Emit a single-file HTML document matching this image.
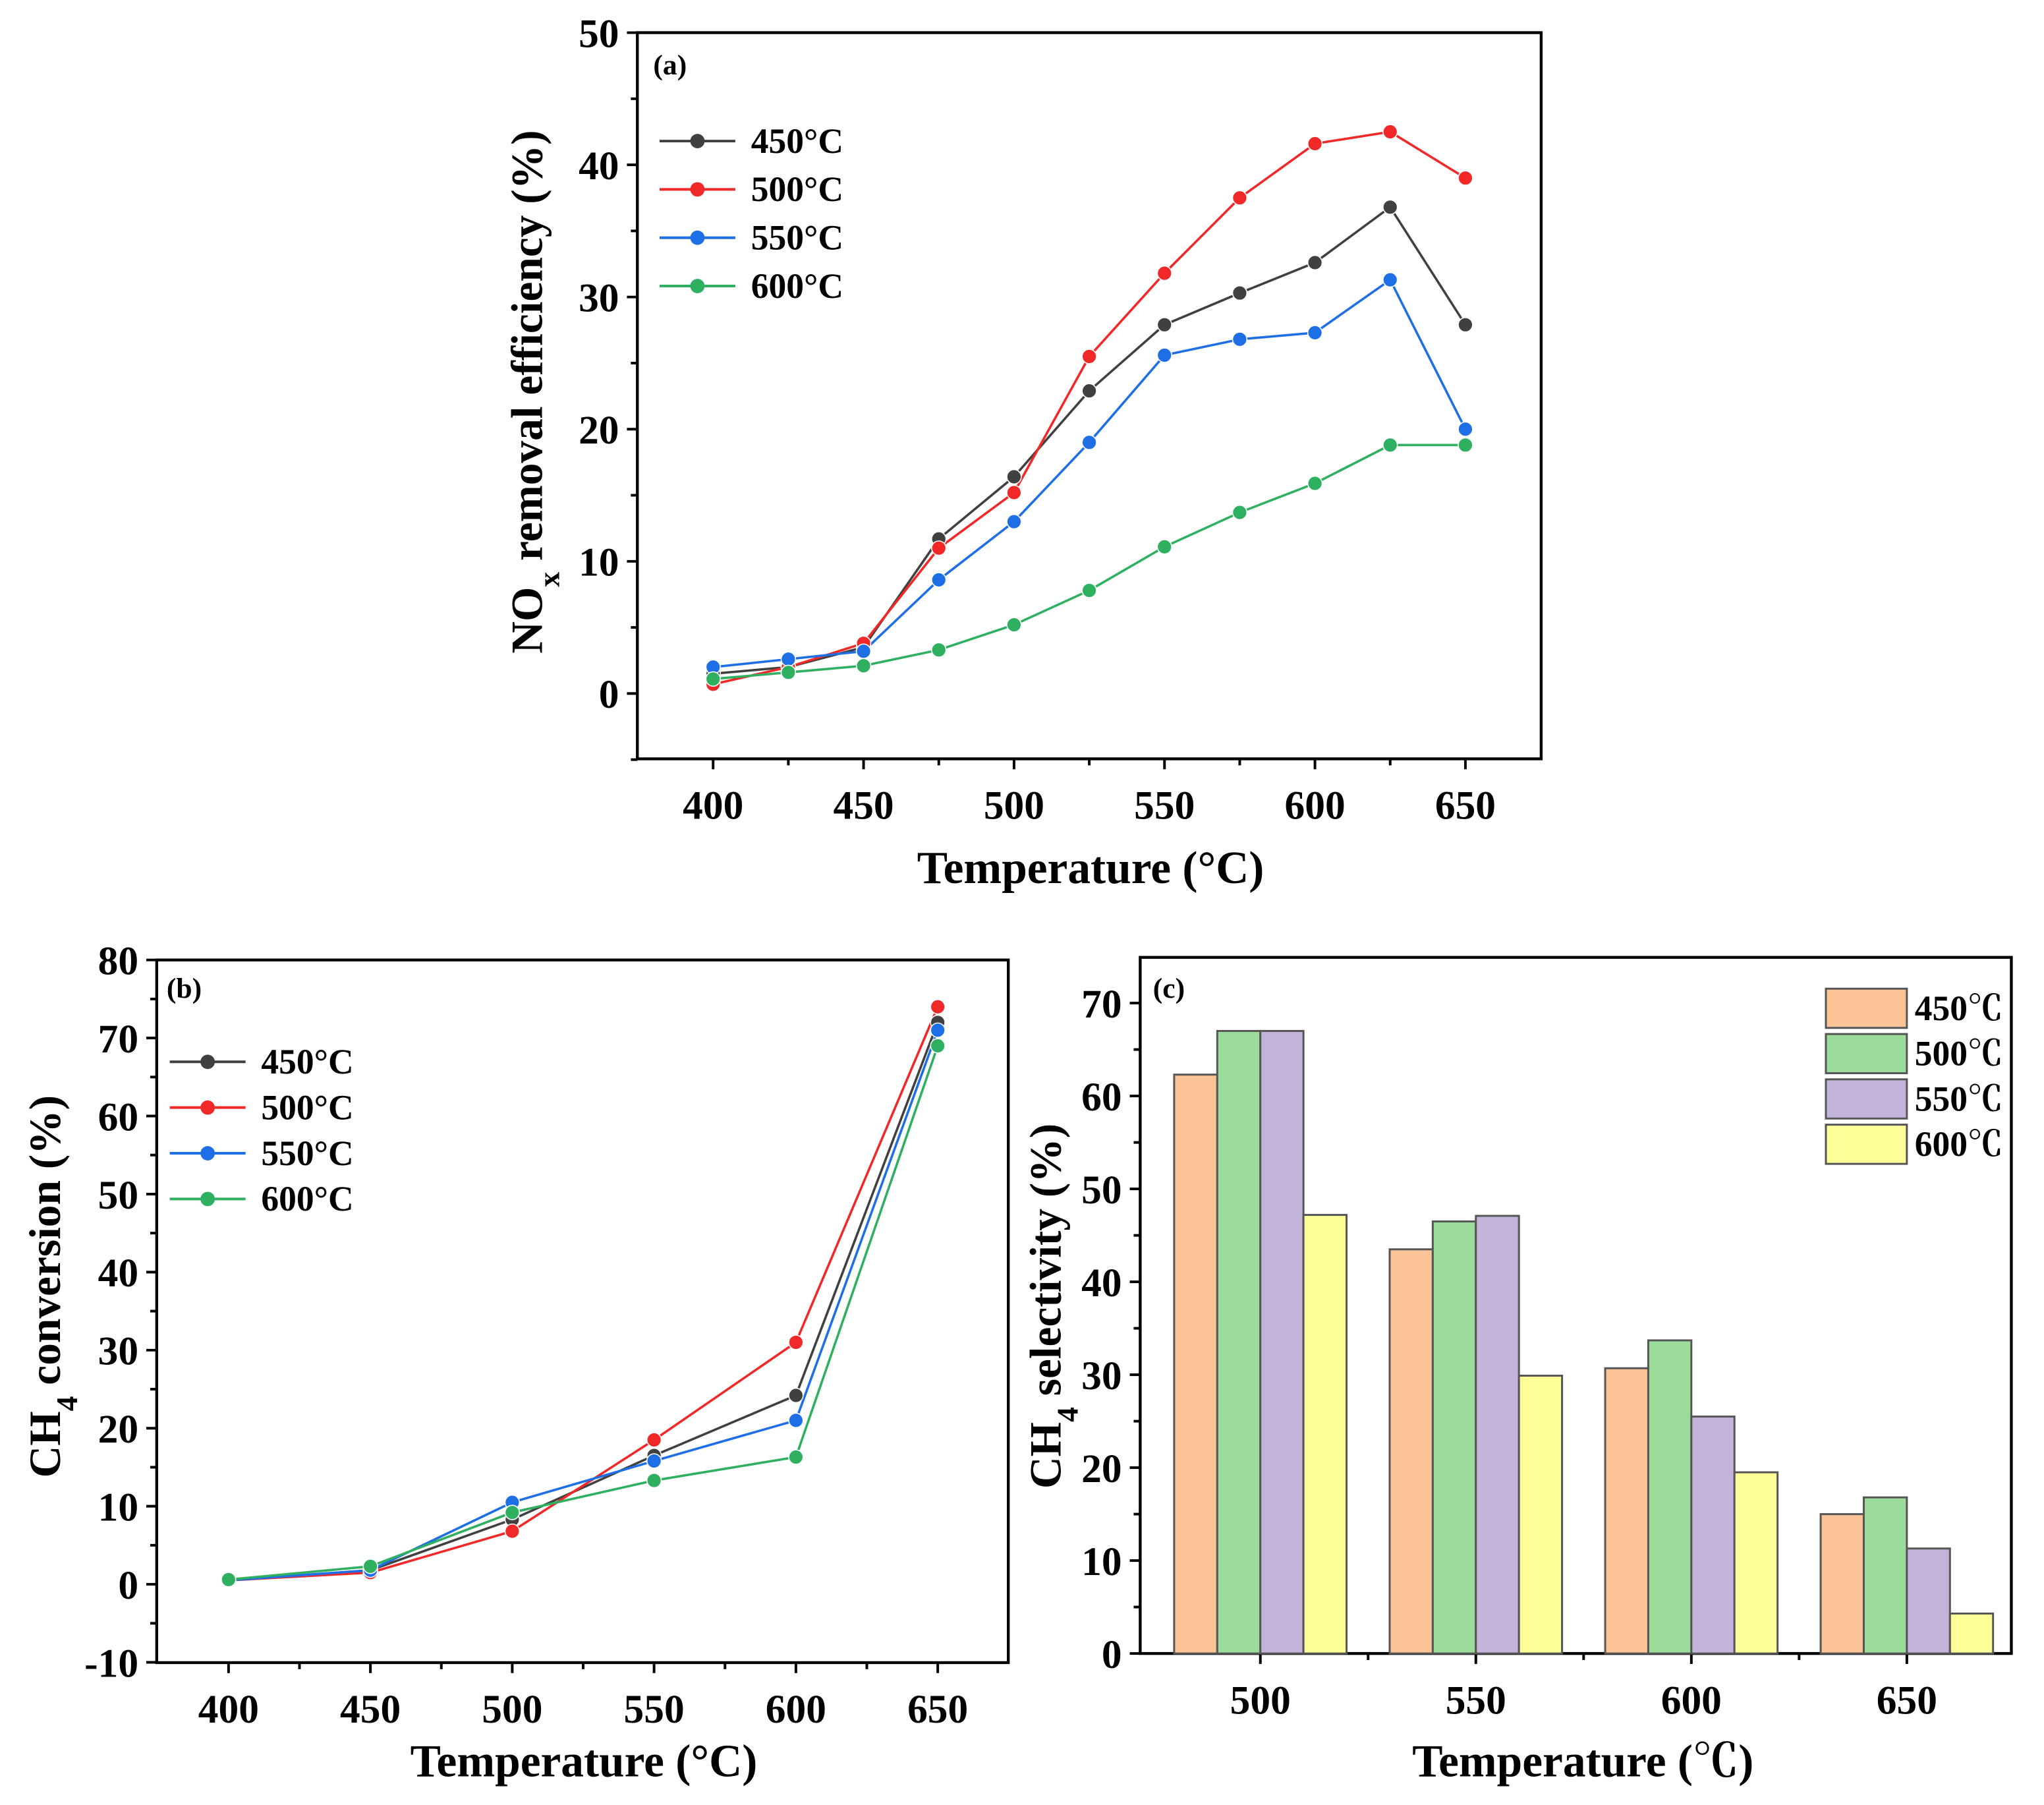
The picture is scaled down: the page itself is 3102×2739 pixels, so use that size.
<!DOCTYPE html>
<html><head><meta charset="utf-8">
<style>
html,body{margin:0;padding:0;background:#fff;}
svg{display:block;font-family:"Liberation Serif","Noto Serif CJK SC",serif;font-weight:bold;}
</style></head>
<body>
<svg id="fig" width="3102" height="2739" viewBox="0 0 1565 1382" preserveAspectRatio="none" xmlns="http://www.w3.org/2000/svg">
<rect x="0" y="0" width="1565" height="1382" fill="#fff"/>
<g id="pa"></g>
<g id="pb"></g>
<g id="pc"></g>
</svg>
<script>
// ---- Panel (a) data ----
const aTemps = [400,425,450,475,500,525,550,575,600,625,650];
const aS450 = [1.5,2.0,3.5,11.7,16.4,22.9,27.9,30.3,32.6,36.8,27.9];
const aS500 = [0.7,2.0,3.8,11.0,15.2,25.5,31.8,37.5,41.6,42.5,39.0];
const aS550 = [2.0,2.6,3.2,8.6,13.0,19.0,25.6,26.8,27.3,31.3,20.0];
const aS600 = [1.1,1.6,2.1,3.3,5.2,7.8,11.1,13.7,15.9,18.8,18.8];
const aYTicks = [0,10,20,30,40,50];
const aXTicks = [400,450,500,550,600,650];
// ---- Panel (b) data ----
const bTemps = [400,450,500,550,600,650];
const bS450 = [0.5,1.8,8.3,16.5,24.2,72.0];
const bS500 = [0.5,1.5,6.8,18.5,31.0,74.0];
const bS550 = [0.5,1.8,10.5,15.8,21.0,71.0];
const bS600 = [0.6,2.3,9.2,13.3,16.3,69.0];
const bYTicks = [-10,0,10,20,30,40,50,60,70,80];
const bXTicks = [400,450,500,550,600,650];
// ---- Panel (c) data ----
const cCats = [500,550,600,650];
const cS450 = [62.3,43.5,30.7,15.0];
const cS500 = [67.0,46.5,33.7,16.8];
const cS550 = [67.0,47.1,25.5,11.3];
const cS600 = [47.2,29.9,19.5,4.3];
const cYTicks = [0,10,20,30,40,50,60,70];
const seriesNames = ['450°C','500°C','550°C','600°C'];
const seriesNamesC = ['450℃','500℃','550℃','600℃'];
const lineColors = ['#404040','#f02828','#1e6ee6','#2eb060'];
const barColors = ['#fcc396','#9bdc9b','#c4b4dc','#ffff99'];

const NS='http://www.w3.org/2000/svg';
function mk(parent,tag,attrs,text){
  const e=document.createElementNS(NS,tag);
  for(const k in attrs)e.setAttribute(k,attrs[k]);
  if(text!==undefined)e.textContent=text;
  parent.appendChild(e);return e;
}
function lin(d0,d1,r0,r1){return v=>r0+(v-d0)*(r1-r0)/(d1-d0);}

function axesFrame(g,L,R,T,B,xs,ys,xt,yt,xMinor,yMinor,nm){
  const f=mk(g,'rect',{x:L,y:T,width:R-L,height:B-T,fill:'none',stroke:'#000','stroke-width':2.2});
  
  
  yt.forEach(v=>{
    const y=ys(v);
    mk(g,'line',{x1:L-8,x2:L,y1:y,y2:y,stroke:'#000','stroke-width':2});
    const t=mk(g,'text',{x:L-14,y:y+11,'text-anchor':'end','font-size':31},String(v));
    
    
  });
  yMinor.forEach(v=>{const y=ys(v);mk(g,'line',{x1:L-5,x2:L,y1:y,y2:y,stroke:'#000','stroke-width':2});});
  xt.forEach(v=>{
    const x=xs(v);
    mk(g,'line',{x1:x,x2:x,y1:B,y2:B+8,stroke:'#000','stroke-width':2});
    const t=mk(g,'text',{x:x,y:B+46,'text-anchor':'middle','font-size':31},String(v));
    
    
  });
  xMinor.forEach(v=>{const x=xs(v);mk(g,'line',{x1:x,x2:x,y1:B,y2:B+5,stroke:'#000','stroke-width':2});});
}
function drawLines(g,xs,ys,temps,series,nm){
  series.forEach((s,i)=>{
    const pts=temps.map((t,j)=>xs(t)+','+ys(s[j])).join(' ');
    const pl=mk(g,'polyline',{points:pts,fill:'none',stroke:lineColors[i],'stroke-width':1.8});
    
    
  });
  series.forEach((s,i)=>{
    temps.forEach((t,j)=>{
      const c=mk(g,'circle',{cx:xs(t),cy:ys(s[j]),r:5.5,fill:lineColors[i],stroke:'#fff','stroke-width':0.8});
      
      
    });
  });
}
function lineLegend(g,x0,y0,dy,nm){
  seriesNames.forEach((n,i)=>{
    const y=y0+i*dy;
    const lg=mk(g,'g',{});
    
    
    mk(lg,'line',{x1:x0,x2:x0+58,y1:y,y2:y,stroke:lineColors[i],'stroke-width':2});
    mk(lg,'circle',{cx:x0+29,cy:y,r:5.5,fill:lineColors[i]});
    mk(lg,'text',{x:x0+70,y:y+9,'font-size':27},n);
  });
}
function label(g,x,y,txt,size,nm,rot){
  const t=mk(g,'text',{x:x,y:y,'text-anchor':'middle','font-size':size});
  if(rot)t.setAttribute('transform','rotate(-90 '+x+' '+y+')');
  t.innerHTML=txt;
  
  
  return t;
}

// Panel a
(function(){
  const g=document.getElementById('pa');
  const L=488,R=1180,T=25,B=581;
  const xs=lin(400,650,546,1122), ys=lin(0,50,531,25);
  axesFrame(g,L,R,T,B,xs,ys,aXTicks,aYTicks,[425,475,525,575,625],[-5,5,15,25,35,45],'panel-a');
  drawLines(g,xs,ys,aTemps,[aS450,aS500,aS550,aS600],'panel-a');
  lineLegend(g,505,108,37,'panel-a');
  label(g,513,57,'(a)',22,'panel-a-label');
  label(g,835,676,'Temperature (°C)',35,'panel-a-x-axis-title');
  label(g,415,300,'NO<tspan baseline-shift="sub" font-size="23">x</tspan> removal efficiency (%)',34,'panel-a-y-axis-title',true);
})();
// Panel b
(function(){
  const g=document.getElementById('pb');
  const L=120,R=772,T=735,B=1273;
  const xs=lin(400,650,175,718), ys=lin(0,80,1213,735);
  axesFrame(g,L,R,T,B,xs,ys,bXTicks,bYTicks,[425,475,525,575,625],[-5,5,15,25,35,45,55,65,75],'panel-b');
  drawLines(g,xs,ys,bTemps,[bS450,bS500,bS550,bS600],'panel-b');
  lineLegend(g,130,813,35,'panel-b');
  label(g,141,764,'(b)',22,'panel-b-label');
  label(g,447,1360,'Temperature (°C)',35,'panel-b-x-axis-title');
  label(g,46,985,'CH<tspan baseline-shift="sub" font-size="23">4</tspan> conversion (%)',34,'panel-b-y-axis-title',true);
})();
// Panel c
(function(){
  const g=document.getElementById('pc');
  const L=873,R=1540,T=733,B=1266;
  const ys=lin(0,70,1266,768);
  const cx=i=>965+i*165;
  const f=mk(g,'rect',{x:L,y:T,width:R-L,height:B-T,fill:'none',stroke:'#000','stroke-width':2.2});
  
  
  cYTicks.forEach(v=>{
    const y=ys(v);
    mk(g,'line',{x1:L-8,x2:L,y1:y,y2:y,stroke:'#000','stroke-width':2});
    const t=mk(g,'text',{x:L-14,y:y+11,'text-anchor':'end','font-size':31},String(v));
    
    
  });
  [5,15,25,35,45,55,65].forEach(v=>{const y=ys(v);mk(g,'line',{x1:L-5,x2:L,y1:y,y2:y,stroke:'#000','stroke-width':2});});
  const bw=33;
  const series=[cS450,cS500,cS550,cS600];
  cCats.forEach((c,i)=>{
    const x=cx(i);
    mk(g,'line',{x1:x,x2:x,y1:B,y2:B+8,stroke:'#000','stroke-width':2});
    if(i<3){const xm=x+82.5;mk(g,'line',{x1:xm,x2:xm,y1:B,y2:B+5,stroke:'#000','stroke-width':2});}
    const t=mk(g,'text',{x:x,y:B+46,'text-anchor':'middle','font-size':31},String(c));
    
    
    series.forEach((s,k)=>{
      const y=ys(s[i]);
      const r=mk(g,'rect',{x:x-2*bw+k*bw,y:y,width:bw,height:B-y,fill:barColors[k],stroke:'#555','stroke-width':1.5});
      
      
    });
  });
  seriesNamesC.forEach((n,k)=>{
    const y=757+k*34.7;
    const lg=mk(g,'g',{});
    
    
    mk(lg,'rect',{x:1398,y:y,width:62,height:30,fill:barColors[k],stroke:'#555','stroke-width':1.5});
    mk(lg,'text',{x:1466,y:y+24,'font-size':27},n);
  });
  label(g,895,764,'(c)',22,'panel-c-label');
  label(g,1212,1360,'Temperature (℃)',35,'panel-c-x-axis-title');
  label(g,812,1000,'CH<tspan baseline-shift="sub" font-size="23">4</tspan> selectivity (%)',34,'panel-c-y-axis-title',true);
})();
</script>
</body></html>
